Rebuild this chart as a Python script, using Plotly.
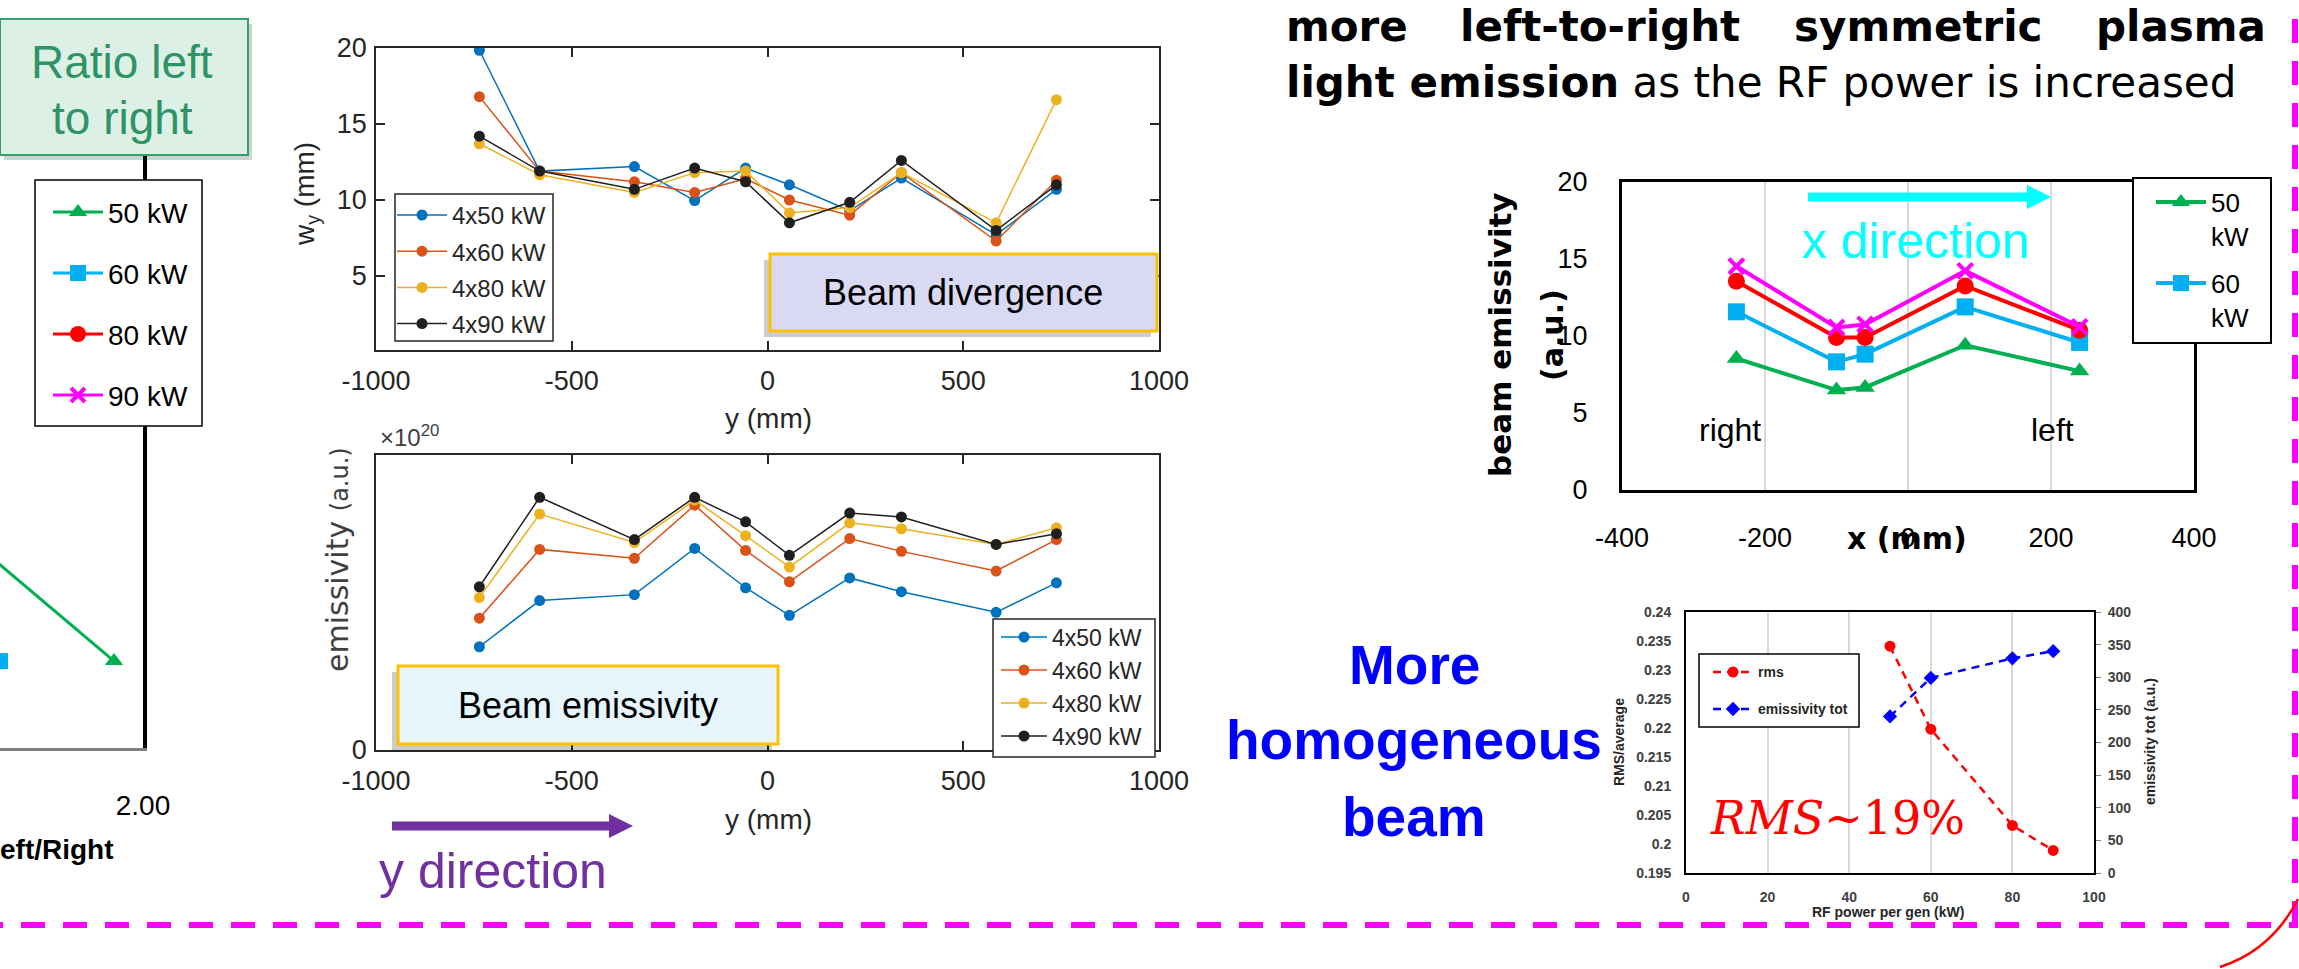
import plotly.graph_objects as go

W, H = 2299, 969

# ---------------- data ----------------
# left panel: left/right emission ratio (only its right end is in view)
ratio_level = [1, 2]
ratio_50kw = [1.919, 1.32]
ratio_60kw = [1.600, 1.25]
ratio_80kw = [1.45, 1.18]
ratio_90kw = [1.36, 1.12]

# beam divergence and beam emissivity along y
y_pos = [-736, -582, -340, -186, -56, 56, 210, 342, 584, 738]
y_ticks = [-1000, -500, 0, 500, 1000]
y_ticktext = ["-1000", "-500", "0", "500", "1000"]
wy_4x50 = [19.85, 11.9, 12.2, 9.96, 12.1, 11.0, 9.3, 11.44, 7.7, 10.7]
wy_4x60 = [16.8, 11.9, 11.2, 10.5, 11.4, 10.0, 9.0, 11.8, 7.3, 11.3]
wy_4x80 = [13.7, 11.66, 10.5, 11.8, 11.9, 9.15, 9.5, 11.8, 8.5, 16.6]
wy_4x90 = [14.2, 11.9, 10.7, 12.1, 11.2, 8.5, 9.85, 12.6, 8.0, 11.0]

# emissivity in units of 1e20
em_4x50 = [1.05, 1.52, 1.58, 2.05, 1.65, 1.37, 1.75, 1.61, 1.40, 1.70]
em_4x60 = [1.34, 2.04, 1.95, 2.49, 2.03, 1.71, 2.15, 2.02, 1.82, 2.14]
em_4x80 = [1.55, 2.40, 2.11, 2.54, 2.18, 1.86, 2.31, 2.25, 2.09, 2.26]
em_4x90 = [1.66, 2.57, 2.14, 2.57, 2.32, 1.98, 2.41, 2.37, 2.09, 2.20]

# beam emissivity along x
x_pos = [-240, -100, -60, 80, 240]
x_ticks = [-400, -200, 0, 200, 400]
x_ticktext = ["-400", "-200", "0", "200", "400"]
be_50kw = [8.54, 6.49, 6.66, 9.40, 7.72]
be_60kw = [11.57, 8.32, 8.82, 11.89, 9.58]
be_80kw = [13.56, 9.90, 9.90, 13.25, 10.38]
be_90kw = [14.53, 10.55, 10.75, 14.23, 10.59]

# homogeneity vs RF power
rf_power = [50, 60, 80, 90]
rms_ratio = [0.2341, 0.2198, 0.2032, 0.1989]
emis_tot = [240, 299, 329, 340]
rms_ticks = [0.195, 0.2, 0.205, 0.21, 0.215, 0.22, 0.225, 0.23, 0.235, 0.24]
rms_ticktext = ["0.195", "0.2", "0.205", "0.21", "0.215", "0.22", "0.225", "0.23", "0.235", "0.24"]


# ---------------- helpers ----------------
def xp(px):
    return px / W


def yp(py):
    return 1 - py / H


SANS = "Liberation Sans"
DJ = "DejaVu Sans"

fig = go.Figure()

# left panel
for name, vals, color, sym in [("50 kW", ratio_50kw, "#00b050", "triangle-up"),
                               ("60 kW", ratio_60kw, "#00b0f0", "square"),
                               ("80 kW", ratio_80kw, "#ff0000", "circle"),
                               ("90 kW", ratio_90kw, "#ff00ff", "x-thin")]:
    mk = dict(symbol=sym, size=16, color=color)
    if sym == "x-thin":
        mk = dict(symbol=sym, size=14, color=color, line=dict(color=color, width=4))
    fig.add_trace(go.Scatter(x=vals, y=ratio_level, mode="lines+markers", name=name,
                             line=dict(color=color, width=3), marker=mk,
                             xaxis="x", yaxis="y", legend="legend", legendgroup="L" + name))

mat_colors = ["#0072BD", "#D95319", "#EDB120", "#1f1f1f"]
mat_names = ["4x50 kW", "4x60 kW", "4x80 kW", "4x90 kW"]

for name, vals, color in zip(mat_names, [wy_4x50, wy_4x60, wy_4x80, wy_4x90], mat_colors):
    fig.add_trace(go.Scatter(x=y_pos, y=vals, mode="lines+markers", name=name,
                             line=dict(color=color, width=1.5), marker=dict(size=11, color=color),
                             xaxis="x2", yaxis="y2", legend="legend2", legendgroup="D" + name))

for name, vals, color in zip(mat_names, [em_4x50, em_4x60, em_4x80, em_4x90], mat_colors):
    fig.add_trace(go.Scatter(x=y_pos, y=vals, mode="lines+markers", name=name,
                             line=dict(color=color, width=1.5), marker=dict(size=11, color=color),
                             xaxis="x3", yaxis="y3", legend="legend3", legendgroup="E" + name))

for name, vals, color, sym, show in [("50<br>kW", be_50kw, "#00b050", "triangle-up", True),
                                     ("60<br>kW", be_60kw, "#00b0f0", "square", True),
                                     ("80<br>kW", be_80kw, "#ff0000", "circle", False),
                                     ("90<br>kW", be_90kw, "#ff00ff", "x-thin", False)]:
    mk = dict(symbol=sym, size=17, color=color)
    if sym == "x-thin":
        mk = dict(symbol=sym, size=15, color=color, line=dict(color=color, width=4))
    fig.add_trace(go.Scatter(x=x_pos, y=vals, mode="lines+markers", name=name,
                             line=dict(color=color, width=4), marker=mk, showlegend=show,
                             xaxis="x4", yaxis="y4", legend="legend4", legendgroup="X" + name))

fig.add_trace(go.Scatter(x=rf_power, y=rms_ratio, mode="lines+markers", name="rms",
                         line=dict(color="#ff0000", width=2.5, dash="8px,6px"),
                         marker=dict(symbol="circle", size=11, color="#ff0000"),
                         xaxis="x5", yaxis="y5", legend="legend5", legendgroup="Rrms"))
fig.add_trace(go.Scatter(x=rf_power, y=emis_tot, mode="lines+markers", name="emissivity tot",
                         line=dict(color="#0000ff", width=2.5, dash="8px,6px"),
                         marker=dict(symbol="diamond", size=11, color="#0000ff"),
                         xaxis="x5", yaxis="y6", legend="legend5", legendgroup="Remis"))

# ---------------- axes ----------------
mat_font = dict(family=SANS, size=27, color="#262626")
mat_axis = dict(showline=True, linecolor="#262626", linewidth=1.5, mirror="ticks",
                ticks="inside", ticklen=9, tickwidth=1.5, tickcolor="#262626",
                showgrid=False, zeroline=False, tickfont=mat_font, automargin=False)

layout_axes = dict(
    xaxis=dict(domain=[0, xp(143)], range=[1.6, 2.0], tickvals=[1.5, 2.0], tickformat=".2f",
               showline=True, linecolor="#7f7f7f", linewidth=3, ticks="", showgrid=False,
               zeroline=False, anchor="y", ticklabelstandoff=30, automargin=False,
               tickfont=dict(family=SANS, size=28, color="black")),
    yaxis=dict(domain=[yp(748), yp(100)], range=[0.52, 4.10], side="right", showline=True,
               linecolor="black", linewidth=4, showticklabels=False, ticks="", showgrid=False,
               zeroline=False, anchor="x", automargin=False),
    xaxis2=dict(mat_axis, domain=[xp(376), xp(1159)], range=[-1000, 1000],
                tickvals=y_ticks, ticktext=y_ticktext, anchor="y2", ticklabelstandoff=6),
    yaxis2=dict(mat_axis, domain=[yp(350), yp(48)], range=[0.13, 20], tickvals=[5, 10, 15, 20],
                anchor="x2", ticklabelstandoff=2),
    xaxis3=dict(mat_axis, domain=[xp(376), xp(1159)], range=[-1000, 1000],
                tickvals=y_ticks, ticktext=y_ticktext, anchor="y3", ticklabelstandoff=6),
    yaxis3=dict(mat_axis, domain=[yp(750), yp(455)], range=[0, 3], tickvals=[0],
                anchor="x3", ticklabelstandoff=2),
    xaxis4=dict(domain=[xp(1622), xp(2194)], range=[-400, 400], tickvals=x_ticks,
                ticktext=x_ticktext, showgrid=True,
                gridcolor="#d9d9d9", gridwidth=1.5, showline=True, linecolor="black", linewidth=3,
                mirror=True, ticks="", zeroline=False, anchor="y4", ticklabelstandoff=22,
                automargin=False, tickfont=dict(family=SANS, size=27, color="black")),
    yaxis4=dict(domain=[yp(490), yp(182)], range=[0, 20], dtick=5, showgrid=False, showline=True,
                linecolor="black", linewidth=3, mirror=True, ticks="", zeroline=False,
                anchor="x4", ticklabelstandoff=26, automargin=False,
                tickfont=dict(family=SANS, size=27, color="black")),
    xaxis5=dict(domain=[xp(1686), xp(2094)], range=[0, 100], dtick=20, showgrid=True,
                gridcolor="#d9d9d9", gridwidth=1.5, showline=True, linecolor="black", linewidth=2,
                mirror=True, ticks="", zeroline=False, anchor="y5", ticklabelstandoff=10,
                automargin=False,
                tickfont=dict(family=SANS, size=14, color="#404040", weight="bold")),
    yaxis5=dict(domain=[yp(873), yp(612)], range=[0.195, 0.24], tickvals=rms_ticks,
                ticktext=rms_ticktext, showgrid=False, showline=True, linecolor="black",
                linewidth=2, ticks="", zeroline=False, anchor="x5", ticklabelstandoff=10,
                automargin=False,
                tickfont=dict(family=SANS, size=14, color="#404040", weight="bold")),
    yaxis6=dict(overlaying="y5", side="right", range=[0, 400], dtick=50, showgrid=False,
                showline=True, linecolor="black", linewidth=2, ticks="outside", ticklen=5,
                tickcolor="#808080", zeroline=False, anchor="x5", ticklabelstandoff=4,
                automargin=False,
                tickfont=dict(family=SANS, size=14, color="#404040", weight="bold")),
)


# ---------------- legends ----------------
def legend_at(text_left, first_mid, size, gap, symbol_w=30, lines=1, color="black",
              weight="normal", valign="middle"):
    item_h = size * 1.3 * lines + 3
    return dict(x=xp(text_left - symbol_w - 10), y=yp(first_mid - 5 - item_h / 2),
                xanchor="left", yanchor="top", bgcolor="rgba(0,0,0,0)", borderwidth=0,
                tracegroupgap=gap, traceorder="grouped", valign=valign, itemwidth=symbol_w,
                font=dict(family=SANS, size=size, color=color, weight=weight))


legends = dict(
    legend=legend_at(108, 212, 28, 21.6, symbol_w=50),
    legend2=legend_at(452, 215, 24, 2, symbol_w=50, color="#262626"),
    legend3=legend_at(1052, 637, 23, 0.1, symbol_w=46, color="#262626"),
    legend4=legend_at(2211, 219, 26, 10.4, symbol_w=50, lines=2, valign="top"),
    legend5=legend_at(1758, 672, 14, 15.8, symbol_w=40, color="#262626", weight="bold"),
)

# ---------------- shapes ----------------
shapes = []


def rect(x0, y0, x1, y1, fill, line_color=None, line_width=0):
    shapes.append(dict(type="rect", xref="paper", yref="paper", layer="above",
                       x0=xp(x0), x1=xp(x1), y0=yp(y1), y1=yp(y0), fillcolor=fill,
                       line=dict(color=line_color or fill, width=line_width)))


def poly(points, fill):
    d = "M " + " L ".join(f"{xp(a):.5f},{yp(b):.5f}" for a, b in points) + " Z"
    shapes.append(dict(type="path", xref="paper", yref="paper", layer="above", path=d,
                       fillcolor=fill, line=dict(color=fill, width=0)))


def seg(x0, y0, x1, y1, color, width, dash="solid"):
    shapes.append(dict(type="line", xref="paper", yref="paper", layer="above",
                       x0=xp(x0), x1=xp(x1), y0=yp(y0), y1=yp(y1),
                       line=dict(color=color, width=width, dash=dash)))


# slide frame (dashed magenta); drawn right-to-left so the dash phase ends at the corner
seg(2271, 925, 0, 925, "#ff00ff", 6, "24px,18px")
seg(2289, 925, 2298, 925, "#ff00ff", 6)
seg(2295, 925, 2295, 3, "#ff00ff", 6, "24px,18px")
# red arc at the lower right corner
arc = (f"M {xp(2298):.5f},{yp(899):.5f} Q {xp(2272):.5f},{yp(950):.5f} "
       f"{xp(2220):.5f},{yp(967):.5f}")
shapes.append(dict(type="path", xref="paper", yref="paper", layer="above", path=arc,
                   line=dict(color="#ff0000", width=2.5)))

# "Ratio left to right" label box
rect(4, 24, 252, 160, "rgba(0,0,0,0.18)")
rect(0, 19, 248, 155, "#ddf0e6", "#34a06e", 2)

# legend boxes
rect(35, 180, 202, 426, "white", "black", 1.5)
rect(395, 194, 553, 341, "white", "#262626", 1.5)
rect(993, 619, 1155, 757, "white", "#262626", 1.5)
rect(2133, 178, 2271, 343, "white", "black", 2)
rect(1699, 654, 1859, 727, "white", "black", 1.5)

# labelled callout boxes
rect(764, 260, 1151, 337, "rgba(0,0,0,0.2)")
rect(770, 254, 1157, 331, "#d9d9f3", "#ffc000", 3)
rect(392, 672, 772, 750, "rgba(0,0,0,0.2)")
rect(398, 666, 778, 744, "#e6f4fb", "#ffc000", 3)

# direction arrows
rect(392, 821.5, 612, 830.5, "#7030a0")
poly([(609, 814), (633, 826), (609, 838)], "#7030a0")
rect(1808, 192.5, 2030, 201.5, "#00ffff")
poly([(2027, 185), (2051, 197), (2027, 209)], "#00ffff")

# ---------------- annotations ----------------
annotations = []


def label(text, x, y, size, color="black", family=SANS, xanchor="center", yanchor="middle",
          angle=0, weight="normal"):
    annotations.append(dict(text=text, x=xp(x), y=yp(y), xref="paper", yref="paper",
                            showarrow=False, xanchor=xanchor, yanchor=yanchor, textangle=angle,
                            font=dict(family=family, size=size, color=color, weight=weight)))


label("Ratio left", 122, 62, 46, "#2e9466")
label("to right", 122, 118, 46, "#2e9466")
label("eft/Right", 116, 849, 28, xanchor="right", weight="bold")

label("w<sub>y</sub> (mm)", 307, 194, 28, "#262626", angle=-90)
label("y (mm)", 768, 418, 28, "#262626")
label("Beam divergence", 963, 292, 36)

label("×10<sup>20</sup>", 378, 436, 24, "#404040", xanchor="left")
label("emissivity <span style='font-size:24px'>(a.u.)</span>", 337, 560, 30, "#404040",
      family=DJ, angle=-90)
label("y (mm)", 768, 819, 28, "#262626")
label("Beam emissivity", 588, 705, 36)
label("y direction", 377, 871, 50, "#7030a0", xanchor="left")

label("more", 1284, 27, 42, family=DJ, xanchor="left", weight="bold")
label("left-to-right", 1458, 27, 42, family=DJ, xanchor="left", weight="bold")
label("symmetric", 1792, 27, 42, family=DJ, xanchor="left", weight="bold")
label("plasma", 2094, 27, 42, family=DJ, xanchor="left", weight="bold")
label("<b>light emission</b> as the RF power is increased", 1284, 82, 42, family=DJ,
      xanchor="left")

label("beam emissivity", 1500, 335, 31, family=DJ, angle=-90, weight="bold")
label("(a.u.)", 1552, 335, 30, family=DJ, angle=-90, weight="bold")
label("x (mm)", 1907, 538, 30, family=DJ, weight="bold")
label("right", 1730, 430, 32)
label("left", 2052, 430, 32)
label("x direction", 1916, 241, 50, "#00ffff")

label("More", 1414, 665, 55, "#0000ff", weight="bold")
label("homogeneous", 1414, 740, 55, "#0000ff", weight="bold")
label("beam", 1414, 817, 55, "#0000ff", weight="bold")

label("RMS/average", 1619, 742, 14, "#262626", angle=-90, weight="bold")
label("emissivity tot (a.u.)", 2150, 742, 14, "#262626", angle=-90, weight="bold")
label("RF power per gen (kW)", 1888, 912, 14, "#262626", weight="bold")
label("<i>RMS</i>~19%", 1837, 818, 46, "#ff0000", family="DejaVu Serif")

fig.update_layout(
    width=W, height=H, autosize=False,
    margin=dict(l=0, r=0, t=0, b=0, pad=0, autoexpand=False),
    paper_bgcolor="white", plot_bgcolor="white",
    shapes=shapes, annotations=annotations,
    **layout_axes, **legends,
)

fig.write_html("out.html")
